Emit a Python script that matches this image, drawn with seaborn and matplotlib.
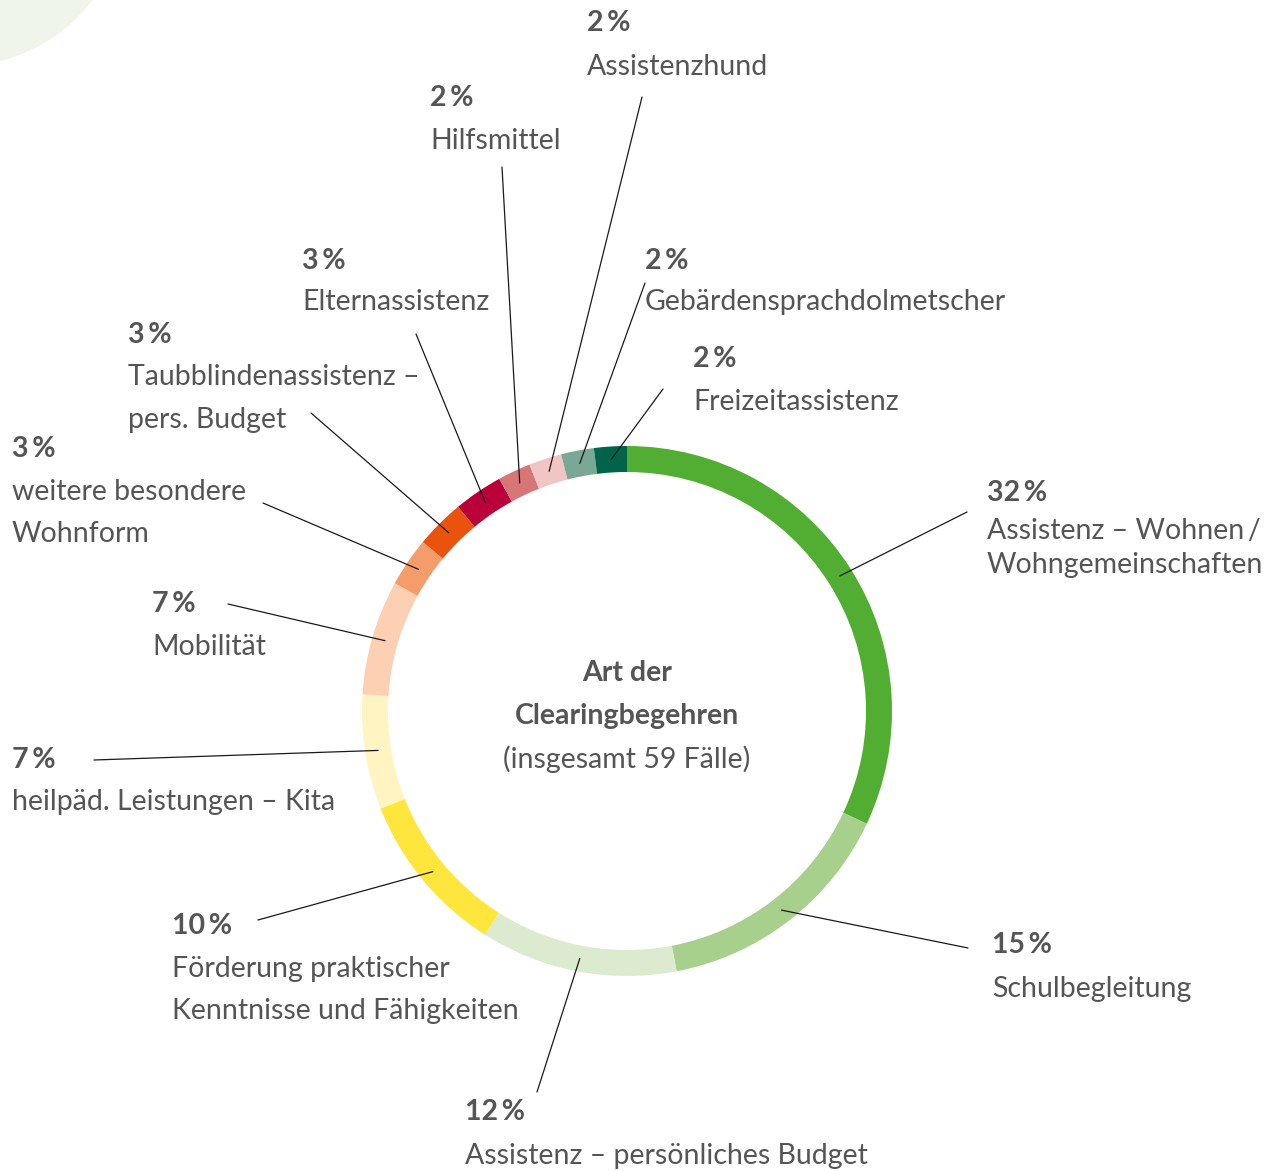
import numpy as np
import matplotlib
matplotlib.use("Agg")
import matplotlib.pyplot as plt
import seaborn as sns
from matplotlib.patches import Circle

# --- data -------------------------------------------------------------
categories = [
    "Assistenz – Wohnen\u2009/\nWohngemeinschaften",
    "Schulbegleitung",
    "Assistenz – persönliches Budget",
    "Förderung praktischer\nKenntnisse und Fähigkeiten",
    "heilpäd. Leistungen – Kita",
    "Mobilität",
    "weitere besondere\nWohnform",
    "Taubblindenassistenz –\npers. Budget",
    "Elternassistenz",
    "Hilfsmittel",
    "Assistenzhund",
    "Gebärdensprachdolmetscher",
    "Freizeitassistenz",
]
shares = [32, 15, 12, 10, 7, 7, 3, 3, 3, 2, 2, 2, 2]
colors = ["#52ae32", "#a8d08d", "#dcebd0", "#ffe63c", "#fff4c2", "#fdd0b3",
          "#f59c6b", "#e9530d", "#b9003a", "#d67676", "#f0c5c4", "#7aa896",
          "#00634a"]
center_title = ["Art der", "Clearingbegehren"]
center_sub = "(insgesamt 59 Fälle)"

# --- layout (pixel positions, y measured from top) --------------------
# text x, y of percent line, y of label lines, outer end of leader line
label_x = [987, 992, 465, 172, 12, 152, 12, 128, 302, 430, 587, 645, 693]
pct_y = [493, 945, 1112, 926, 760, 604, 449, 335, 261, 98, 23, 261, 359]
line_y = [[531, 565], [989], [1156], [969, 1011], [802], [647], [492, 534],
          [377, 420], [302], [141], [67], [302], [402]]
leader_end = [(967, 512), (968, 948), (537, 1092), (258, 920), (94, 760),
              (228, 604), (263, 503), (311, 413), (416, 334), (502, 167),
              (642, 97), (645, 283), (663, 389)]

W, H = 1269, 1171
cx, cy = 627, 711
R_OUT, RING = 265, 26
TXT = "#555555"
FS = 20.5
FONT = ["Lato", "DejaVu Sans"]

sns.set_style("white")
plt.rcParams["font.family"] = FONT

fig = plt.figure(figsize=(W / 100, H / 100), dpi=100)
ax = fig.add_axes([0, 0, 1, 1])
ax.set_xlim(0, W)
ax.set_ylim(0, H)
ax.set_aspect("equal")
ax.axis("off")

def Y(y):
    return H - y

# decorative circle top-left
ax.add_patch(Circle((-40, Y(-100)), 166, color="#eff5ea", lw=0, zorder=0))

ax.pie(shares, colors=colors, startangle=90, counterclock=False,
       radius=R_OUT, center=(cx, Y(cy)),
       wedgeprops=dict(width=RING, linewidth=0))
ax.set_xlim(0, W)
ax.set_ylim(0, H)

fracs = np.array(shares) / sum(shares)
mids = np.cumsum(fracs) - fracs / 2
r_mid = R_OUT - RING / 2

for i, cat in enumerate(categories):
    ang = np.deg2rad(90 - mids[i] * 360)
    x0 = cx + r_mid * np.cos(ang)
    y0 = Y(cy) + r_mid * np.sin(ang)
    ex, ey = leader_end[i]
    ax.plot([x0, ex], [y0, Y(ey)], color="#1a1a1a", lw=0.9, zorder=3)

    ax.text(label_x[i], Y(pct_y[i]), f"{shares[i]}\u2009%", fontsize=FS,
            fontweight="bold", color=TXT, ha="left", va="center")
    for line, ly in zip(cat.split("\n"), line_y[i]):
        ax.text(label_x[i], Y(ly), line, fontsize=FS, color=TXT,
                ha="left", va="center")

ax.text(cx, Y(673), center_title[0], fontsize=FS, fontweight="bold",
        color=TXT, ha="center", va="center")
ax.text(cx, Y(716), center_title[1], fontsize=FS, fontweight="bold",
        color=TXT, ha="center", va="center")
ax.text(cx, Y(759), center_sub, fontsize=FS, color=TXT,
        ha="center", va="center")

fig.savefig("out.png", dpi=100)
plt.close(fig)
